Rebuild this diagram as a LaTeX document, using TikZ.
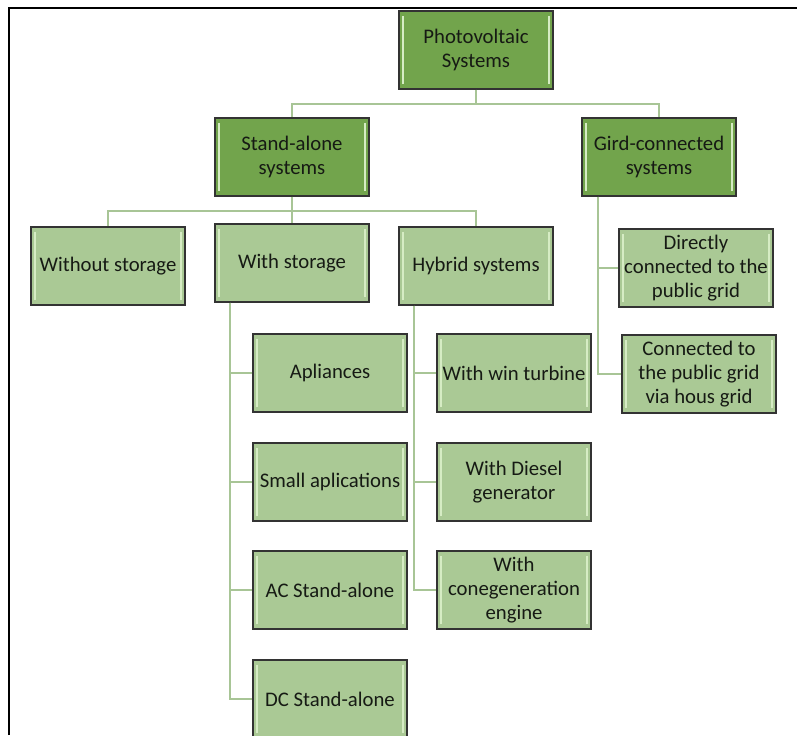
\documentclass[tikz,border=0pt]{standalone}
\usepackage{fontspec}
\setmainfont{Carlito}
\usetikzlibrary{calc}
\definecolor{pvdark}{RGB}{114,164,76}
\definecolor{pvlight}{RGB}{170,201,149}
\definecolor{pvline}{RGB}{168,197,150}
\definecolor{pvglow}{RGB}{214,236,196}
\definecolor{pvtext}{RGB}{22,26,20}

\begin{document}
\begin{tikzpicture}[x=0.02cm, y=-0.02cm,
    box/.style={draw=black!80, line width=0.8pt, minimum width=3.08cm, minimum height=1.56cm,
        inner sep=1pt, align=center, text=pvtext, font=\fontsize{11.8}{13.6}\selectfont,
        path picture={
            \draw[pvglow, line width=1.2pt]
                ($(path picture bounding box.north west)+(4,5)$) -- ($(path picture bounding box.south west)+(4,-5)$)
                ($(path picture bounding box.north east)+(-4,5)$) -- ($(path picture bounding box.south east)+(-4,-5)$);
        }},
    topbox/.style={box, fill=pvdark},
    subbox/.style={box, fill=pvlight},
    conn/.style={draw=pvline, line width=1.1pt}]
\useasboundingbox (0,0) rectangle (797,735);
\clip (0,0) rectangle (797,735);
\fill[white] (0,0) rectangle (797,735);

% frame
\draw[line width=1.2pt] (9,735) -- (9,8) -- (797,8);

% top levels
\node[topbox] (pv) at (476,50) {Photovoltaic\\Systems};
\node[topbox] (sa) at (292,157) {Stand-alone\\systems};
\node[topbox] (gc) at (659,157) {Gird-connected\\systems};

% stand-alone branches
\node[subbox] (wo) at (108,266) {Without storage};
\node[subbox] (ws) at (292,263) {With storage};
\node[subbox] (hy) at (476,266) {Hybrid systems};

% with storage
\node[subbox] (apl) at (330,373) {Apliances};
\node[subbox] (sml) at (330,482) {Small aplications};
\node[subbox] (acs) at (330,590) {AC Stand-alone};
\node[subbox] (dcs) at (330,699) {DC Stand-alone};

% hybrid
\node[subbox] (wt) at (514,373) {With win turbine};
\node[subbox] (dg) at (514,482) {With Diesel\\generator};
\node[subbox] (ce) at (514,590) {With\\conegeneration\\engine};

% grid-connected
\node[subbox] (dir) at (696,268) {Directly\\connected to the\\public grid};
\node[subbox] (hg) at (699,374) {Connected to\\the public grid\\via hous grid};

% connectors
\coordinate (j1) at (476,104);
\coordinate (j2) at (292,211);
\draw[conn] (pv.south) -- (j1) -| (sa.north);
\draw[conn] (j1) -| (gc.north);
\draw[conn] (sa.south) -- (j2) -| (wo.north);
\draw[conn] (j2) -- (ws.north);
\draw[conn] (j2) -| (hy.north);

\draw[conn] ($(ws.south west)+(16,0)$) |- (apl.west);
\draw[conn] ($(ws.south west)+(16,0)$) |- (sml.west);
\draw[conn] ($(ws.south west)+(16,0)$) |- (acs.west);
\draw[conn] ($(ws.south west)+(16,0)$) |- (dcs.west);

\draw[conn] ($(hy.south west)+(16,0)$) |- (wt.west);
\draw[conn] ($(hy.south west)+(16,0)$) |- (dg.west);
\draw[conn] ($(hy.south west)+(16,0)$) |- (ce.west);

\draw[conn] ($(gc.south west)+(17,0)$) |- (dir.west);
\draw[conn] ($(gc.south west)+(17,0)$) |- (hg.west);
\end{tikzpicture}
\end{document}
